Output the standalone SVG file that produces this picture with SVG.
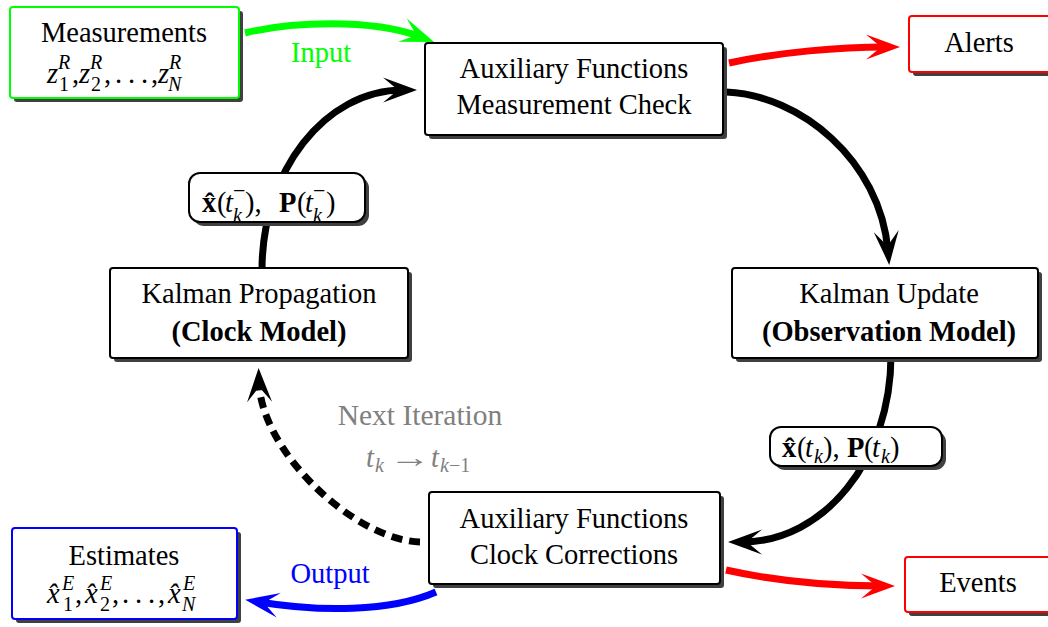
<svg xmlns="http://www.w3.org/2000/svg" width="1048" height="627" viewBox="0 0 1048 627">
  <style>
    .shadow { fill: #404040; }
    .box { fill: #ffffff; stroke: #000000; stroke-width: 2; }
    .lbl { fill: #ffffff; stroke: #000000; stroke-width: 2; }
    .t { font-family: "Liberation Serif", "Times New Roman", serif; font-size: 28.5px; fill: #000000; }
    .m { text-anchor: middle; }
    .it { font-style: italic; }
    .bf { font-weight: bold; }
    .sc { font-size: 20px; }
    .grey { fill: #808080; }
    .wire { fill: none; stroke-width: 7; stroke-linecap: butt; }
  </style>
  <defs>
    <marker id="ahK" viewBox="0 -13 34 26" refX="20" refY="0" markerWidth="34" markerHeight="26" markerUnits="userSpaceOnUse" orient="auto">
      <path d="M34,0 L0,-12.5 L15,0 L0,12.5 Z" fill="#000000"/>
    </marker>
    <marker id="ahR" viewBox="0 -13 34 26" refX="20" refY="0" markerWidth="34" markerHeight="26" markerUnits="userSpaceOnUse" orient="auto">
      <path d="M34,0 L0,-12.5 L15,0 L0,12.5 Z" fill="#ff0000"/>
    </marker>
    <marker id="ahG" viewBox="0 -13 34 26" refX="20" refY="0" markerWidth="34" markerHeight="26" markerUnits="userSpaceOnUse" orient="auto">
      <path d="M34,0 L0,-12.5 L15,0 L0,12.5 Z" fill="#00ff00"/>
    </marker>
    <marker id="ahB" viewBox="0 -13 34 26" refX="20" refY="0" markerWidth="34" markerHeight="26" markerUnits="userSpaceOnUse" orient="auto">
      <path d="M34,0 L0,-12.5 L15,0 L0,12.5 Z" fill="#0000ff"/>
    </marker>
  </defs>

  <rect width="1048" height="627" fill="#ffffff"/>

  <!-- connectors -->
  <g id="connectors">
    <path class="wire" stroke="#00ff00" marker-end="url(#ahG)" d="M245,33 C290,22 370,18 421,37"/>
    <path class="wire" stroke="#ff0000" marker-end="url(#ahR)" d="M729,63 C780,52 840,47 886,47"/>
    <path class="wire" stroke="#000000" marker-end="url(#ahK)" d="M726,92 C800,95 880,160 888,251"/>
    <path class="wire" stroke="#000000" marker-end="url(#ahK)" d="M891,355 C891,460 824,542 742,542"/>
    <path class="wire" stroke="#000000" stroke-dasharray="11 7" marker-end="url(#ahK)" d="M420,542 C355,540 261,452 259,382"/>
    <path class="wire" stroke="#000000" marker-end="url(#ahK)" d="M262,270 C262,171 325,90 403,90"/>
    <path class="wire" stroke="#0000ff" marker-end="url(#ahB)" d="M436,592 C390,612 320,612 259,602"/>
    <path class="wire" stroke="#ff0000" marker-end="url(#ahR)" d="M726,570 C780,582 830,586 881,586"/>
    <text class="t m" x="321" y="62" style="fill:#00ff00">Input</text>
    <text class="t m" x="330" y="583" style="fill:#0000ff">Output</text>
    <text class="t m grey" x="420" y="425" style="font-size:29.5px">Next Iteration</text>
    <text class="t grey" y="467">
      <tspan class="it" x="366">t</tspan><tspan class="it sc" x="375" y="472">k</tspan><tspan class="it" x="431" y="467">t</tspan><tspan class="it sc" x="440" y="472">k</tspan><tspan class="sc" x="449" y="472">−1</tspan>
    </text>
    <text class="t grey" transform="translate(389,467) scale(1.45,1)">→</text>
  </g>

  <!-- measurements input -->
  <g id="measurements">
    <rect class="shadow" x="14" y="11" width="229" height="91" rx="3"/>
    <rect class="box" x="10" y="7" width="229" height="91" rx="3" style="stroke:#00ff00"/>
    <text class="t m" x="124" y="42">Measurements</text>
    <text class="t" y="83">
      <tspan class="it" x="47">z</tspan><tspan class="it sc" x="58" y="69">R</tspan><tspan class="sc" x="59" y="91">1</tspan><tspan x="72" y="83">,</tspan>
      <tspan class="it" x="79">z</tspan><tspan class="it sc" x="90" y="69">R</tspan><tspan class="sc" x="91" y="91">2</tspan><tspan x="104" y="83">,</tspan>
      <tspan x="115">.</tspan><tspan x="128">.</tspan><tspan x="141">.</tspan><tspan x="151">,</tspan>
      <tspan class="it" x="158">z</tspan><tspan class="it sc" x="169" y="69">R</tspan><tspan class="it sc" x="168" y="91">N</tspan>
    </text>
  </g>

  <!-- measurement check -->
  <g id="aux-check">
    <rect class="shadow" x="429" y="47" width="298" height="92" rx="3"/>
    <rect class="box" x="425" y="43" width="298" height="92" rx="3"/>
    <text class="t m" x="574" y="78">Auxiliary Functions</text>
    <text class="t m" x="574" y="114">Measurement Check</text>
  </g>

  <!-- alerts output -->
  <g id="alerts">
    <rect class="shadow" x="913" y="20" width="150" height="56" rx="3"/>
    <rect class="box" x="909" y="16" width="150" height="56" rx="3" style="stroke:#ff0000"/>
    <text class="t m" x="979" y="52">Alerts</text>
  </g>

  <!-- propagation step -->
  <g id="kalman-propagation">
    <rect class="shadow" x="114" y="272" width="298" height="90" rx="3"/>
    <rect class="box" x="110" y="268" width="298" height="90" rx="3"/>
    <text class="t m" x="259" y="303">Kalman Propagation</text>
    <text class="t m bf" x="259" y="341">(Clock Model)</text>
  </g>

  <!-- update step -->
  <g id="kalman-update">
    <rect class="shadow" x="736" y="272" width="306" height="90" rx="3"/>
    <rect class="box" x="732" y="268" width="306" height="90" rx="3"/>
    <text class="t m" x="889" y="303">Kalman Update</text>
    <text class="t m bf" x="889" y="341">(Observation Model)</text>
  </g>

  <!-- predicted state label -->
  <g id="state-predicted">
    <rect class="shadow" x="193" y="177" width="176" height="49" rx="11"/>
    <rect class="lbl" x="189" y="173" width="176" height="49" rx="11"/>
    <text class="t" y="212">
      <tspan class="bf" x="202">x̂</tspan><tspan x="217">(</tspan><tspan class="it" x="225">t</tspan><tspan x="233" y="198" style="font-size:22px">−</tspan><tspan class="it sc" x="233" y="222">k</tspan><tspan x="245" y="212">),</tspan>
      <tspan class="bf" x="279">P</tspan><tspan x="297">(</tspan><tspan class="it" x="305">t</tspan><tspan x="313" y="198" style="font-size:22px">−</tspan><tspan class="it sc" x="313" y="222">k</tspan><tspan x="326" y="212">)</tspan>
    </text>
  </g>

  <!-- updated state label -->
  <g id="state-updated">
    <rect class="shadow" x="774" y="431" width="172" height="39" rx="11"/>
    <rect class="lbl" x="770" y="427" width="172" height="39" rx="11"/>
    <text class="t" y="457">
      <tspan class="bf" x="782">x̂</tspan><tspan x="797">(</tspan><tspan class="it" x="805">t</tspan><tspan class="it sc" x="814" y="463">k</tspan><tspan x="823" y="457">),</tspan>
      <tspan class="bf" x="847">P</tspan><tspan x="864">(</tspan><tspan class="it" x="872">t</tspan><tspan class="it sc" x="881" y="463">k</tspan><tspan x="890" y="457">)</tspan>
    </text>
  </g>

  <!-- clock corrections -->
  <g id="aux-corrections">
    <rect class="shadow" x="433" y="496" width="291" height="92" rx="3"/>
    <rect class="box" x="429" y="492" width="291" height="92" rx="3"/>
    <text class="t m" x="574" y="528">Auxiliary Functions</text>
    <text class="t m" x="574" y="564">Clock Corrections</text>
  </g>

  <!-- events output -->
  <g id="events">
    <rect class="shadow" x="909" y="561" width="150" height="55" rx="3"/>
    <rect class="box" x="905" y="557" width="150" height="55" rx="3" style="stroke:#ff0000"/>
    <text class="t m" x="978" y="592">Events</text>
  </g>

  <!-- estimates output -->
  <g id="estimates">
    <rect class="shadow" x="16" y="532" width="225" height="91" rx="3"/>
    <rect class="box" x="12" y="528" width="225" height="91" rx="3" style="stroke:#0000ff"/>
    <text class="t m" x="124" y="565">Estimates</text>
    <text class="t" y="603">
      <tspan class="it" x="47">x̂</tspan><tspan class="it sc" x="62" y="590">E</tspan><tspan class="sc" x="63" y="611">1</tspan><tspan x="75" y="603">,</tspan>
      <tspan class="it" x="85">x̂</tspan><tspan class="it sc" x="100" y="590">E</tspan><tspan class="sc" x="100" y="611">2</tspan><tspan x="112" y="603">,</tspan>
      <tspan x="122">.</tspan><tspan x="135">.</tspan><tspan x="148">.</tspan><tspan x="158">,</tspan>
      <tspan class="it" x="168">x̂</tspan><tspan class="it sc" x="183" y="590">E</tspan><tspan class="it sc" x="182" y="611">N</tspan>
    </text>
  </g>
</svg>
